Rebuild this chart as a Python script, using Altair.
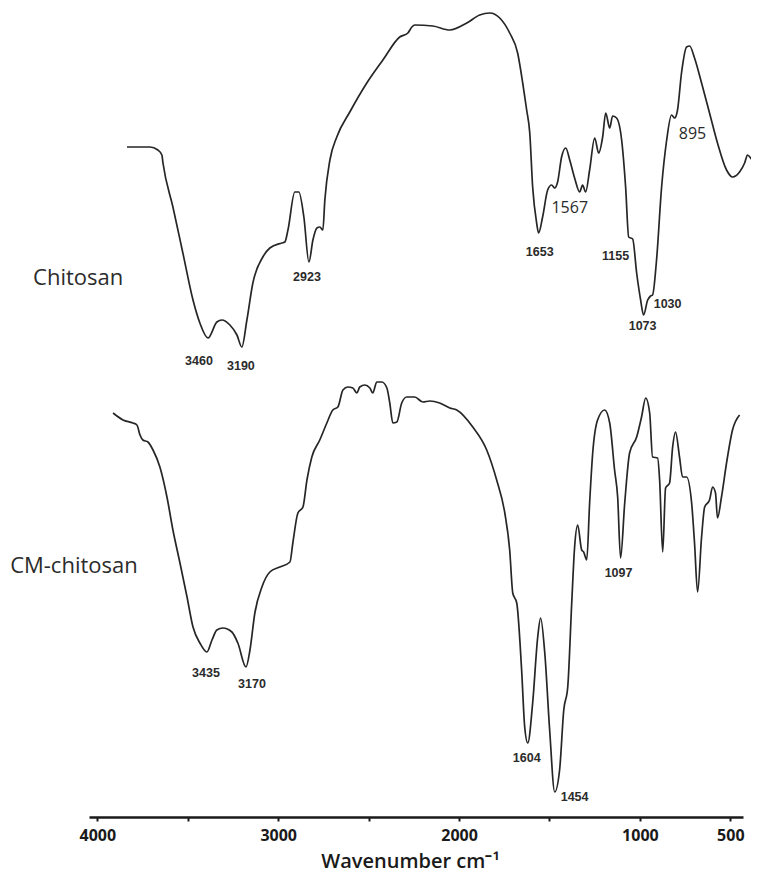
import altair as alt
import pandas as pd

# ---- Chitosan spectrum (wavenumber, relative transmittance a.u.) ----
chitosan_wn = [3836, 3709, 3665, 3643, 3637, 3582, 3527, 3471, 3433, 3388, 3339, 3311, 3267, 3228,
               3201, 3173, 3140, 3085, 3046, 2980, 2963, 2946, 2908, 2886, 2858, 2830, 2808, 2786,
               2770, 2753, 2742, 2714, 2676, 2604, 2510, 2421, 2328, 2283, 2261, 2245, 2145, 2051,
               1957, 1886, 1830, 1775, 1720, 1676, 1648, 1626, 1609, 1593, 1571, 1560, 1538, 1510,
               1488, 1471, 1455, 1433, 1410, 1388, 1361, 1333, 1317, 1300, 1278, 1250, 1228, 1206,
               1189, 1167, 1151, 1129, 1101, 1079, 1062, 1040, 1018, 996, 980, 957, 941, 930, 908,
               880, 852, 825, 808, 792, 770, 742, 725, 698, 659, 615, 571, 521, 488, 449, 421, 405,
               383, 355]
chitosan_t = [670, 670, 667, 662, 654, 610, 564, 517, 494, 479, 495, 497, 492, 482,
              470, 497, 534, 560, 569, 574, 575, 587, 625, 625, 600, 555, 577, 589,
              590, 587, 617, 657, 680, 705, 734, 757, 780, 784, 790, 792, 791, 787,
              794, 802, 804, 799, 784, 764, 734, 707, 684, 630, 594, 584, 600, 627,
              632, 629, 635, 660, 669, 657, 639, 625, 632, 625, 647, 679, 664, 680,
              704, 689, 701, 699, 677, 630, 580, 578, 544, 517, 502, 517, 521, 522, 557,
              630, 677, 702, 699, 707, 744, 770, 771, 759, 734, 704, 674, 647, 640, 645, 654, 662,
              658, 654]

# ---- CM-chitosan spectrum ----
cm_wn = [3913, 3858, 3803, 3781, 3764, 3748, 3720, 3692, 3654, 3615, 3582, 3543, 3504, 3471,
         3433, 3394, 3366, 3339, 3306, 3256, 3223, 3178, 3156, 3129, 3090, 3046, 2991, 2935,
         2919, 2891, 2863, 2841, 2814, 2770, 2731, 2698, 2670, 2642, 2615, 2587, 2565, 2549,
         2521, 2493, 2477, 2455, 2427, 2399, 2383, 2366, 2344, 2317, 2289, 2245, 2200, 2162,
         2107, 2051, 2013, 1924, 1847, 1792, 1747, 1720, 1703, 1681, 1654, 1637, 1620, 1593,
         1565, 1549, 1526, 1499, 1471, 1444, 1421, 1399, 1377, 1361, 1344, 1322, 1311, 1294,
         1278, 1261, 1234, 1195, 1167, 1140, 1123, 1107, 1084, 1057, 1018, 991, 968, 946, 930,
         902, 891, 874, 858, 836, 819, 803, 781, 764, 742, 714, 698, 681, 659, 642, 615, 598,
         582, 571, 549, 521, 488, 449]
cm_t = [404, 397, 394, 392, 382, 377, 375, 367, 350, 320, 287, 254, 220, 190,
        174, 165, 177, 187, 189, 185, 174, 150, 167, 204, 230, 245, 250, 255,
        274, 304, 310, 337, 360, 377, 394, 407, 410, 427, 430, 429, 424, 430,
        432, 429, 424, 435, 435, 429, 414, 394, 395, 414, 420, 420, 415, 416,
        414, 409, 407, 390, 367, 337, 304, 267, 224, 214, 147, 90, 74, 114,
        180, 199, 164, 87, 25, 47, 107, 130, 214, 270, 292, 267, 265, 257,
        314, 364, 397, 407, 394, 347, 320, 259, 314, 364, 380, 400, 419, 404, 360,
        359, 337, 265, 329, 334, 370, 385, 360, 340, 340, 314, 274, 225, 280, 310, 317, 330,
        324, 299, 320, 354, 387, 402]

# ---- peak annotations (small bold) ----
peak_text = ["3460", "3190", "2923", "1653", "1155", "1073", "1030",
             "3435", "3170", "1604", "1097", "1454"]
peak_wn = [3438, 3206, 2841, 1554, 1134, 985, 847,
           3399, 3145, 1626, 1118, 1361]
peak_t = [456, 451, 540, 565, 561, 491, 513,
          144, 133, 59, 244, 20]

# ---- peak annotations (larger regular) ----
big_text = ["1567", "895"]
big_wn = [1388, 709]
big_t = [609, 683]

# ---- spectrum names ----
name_text = ["Chitosan", "CM-chitosan"]
name_wn = [4355, 4482]
name_t = [539, 251]

ticks = [4000, 3500, 3000, 2500, 2000, 1500, 1000, 500]

spec = pd.concat([
    pd.DataFrame({"wn": chitosan_wn, "t": chitosan_t, "sample": "Chitosan"}),
    pd.DataFrame({"wn": cm_wn, "t": cm_t, "sample": "CM-chitosan"}),
])
peaks = pd.DataFrame({"label": peak_text, "wn": peak_wn, "t": peak_t})
bigs = pd.DataFrame({"label": big_text, "wn": big_wn, "t": big_t})
names = pd.DataFrame({"label": name_text, "wn": name_wn, "t": name_t})

xscale = alt.Scale(domain=[4046, 430], nice=False, zero=False)
yscale = alt.Scale(domain=[0, 808], nice=False, zero=False)

xaxis = alt.Axis(
    title="Wavenumber cm⁻¹",
    values=ticks,
    format="d",
    labelExpr="(datum.value % 1000 == 0 || datum.value == 500) ? datum.label : ''",
    grid=False,
    domainColor="#1a1a1a",
    domainWidth=2.5,
    tickColor="#1a1a1a",
    tickWidth=2,
    tickSize=4,
    labelPadding=6,
    labelFont="Open Sans",
    labelFontSize=16,
    labelFontWeight="bold",
    labelColor="#1a1a1a",
    titleFont="Open Sans",
    titleFontSize=20,
    titleFontWeight=600,
    titleColor="#1a1a1a",
    titleBaseline="alphabetic",
    titleY=50,
    titleX=321,
)

lines = alt.Chart(spec).mark_line(
    color="#262626", strokeWidth=1.7, interpolate="monotone"
).encode(
    x=alt.X("wn:Q", scale=xscale, axis=xaxis),
    y=alt.Y("t:Q", scale=yscale, axis=None),
    detail="sample:N",
)

peak_layer = alt.Chart(peaks).mark_text(
    font="Liberation Sans", fontSize=12.5, fontWeight="bold", color="#2b2b2b",
    align="center", baseline="middle",
).encode(
    x=alt.X("wn:Q", scale=xscale),
    y=alt.Y("t:Q", scale=yscale),
    text="label:N",
)

big_layer = alt.Chart(bigs).mark_text(
    font="Open Sans", fontSize=16, color="#2b2b2b",
    align="center", baseline="middle",
).encode(
    x=alt.X("wn:Q", scale=xscale),
    y=alt.Y("t:Q", scale=yscale),
    text="label:N",
)

name_layer = alt.Chart(names).mark_text(
    font="Open Sans", fontSize=22, color="#2b2b2b",
    align="left", baseline="middle",
).encode(
    x=alt.X("wn:Q", scale=xscale),
    y=alt.Y("t:Q", scale=yscale),
    text="label:N",
)

chart = alt.layer(lines, peak_layer, big_layer, name_layer).properties(
    width=654,
    height=808,
    background="white",
    autosize=alt.AutoSizeParams(type="none"),
    padding={"left": 81, "top": 1, "right": 8, "bottom": 59},
).configure_view(stroke="transparent", strokeWidth=0, strokeOpacity=0)

chart.save("out.html", embed_options={"renderer": "svg", "actions": False})
